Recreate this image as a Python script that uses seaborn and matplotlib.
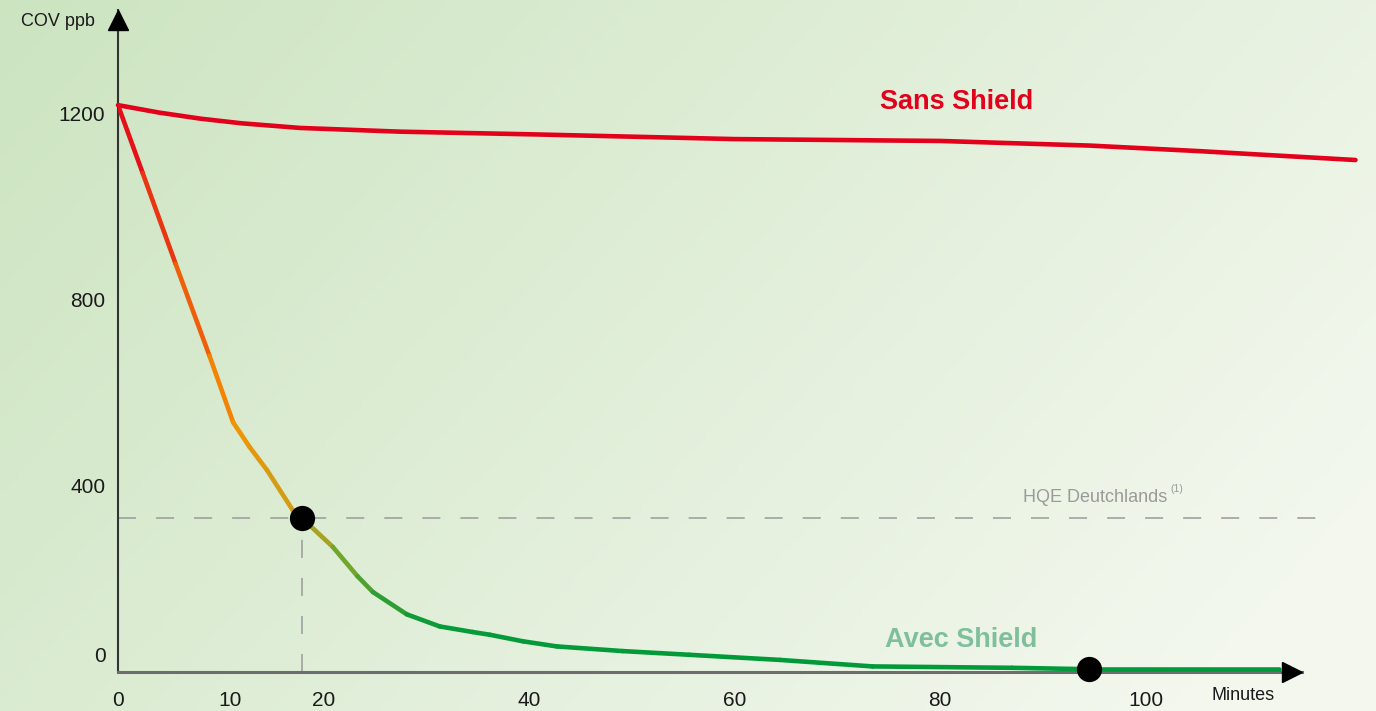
import numpy as np
import matplotlib
matplotlib.use("Agg")
import matplotlib.pyplot as plt
import seaborn as sns
import pandas as pd
from matplotlib.collections import LineCollection
from matplotlib.colors import LinearSegmentedColormap
from matplotlib.transforms import ScaledTranslation

# --- data (minutes, COV ppb) ---
sans_minutes = [0, 4, 8, 12, 17.7, 27.4, 40.7, 60, 80, 94.6, 105.3, 120.4]
sans_ppb = [1219, 1203, 1190, 1180, 1170, 1162, 1156, 1146, 1142, 1132, 1120, 1101]

avec_minutes = [0, 2.4, 5.6, 8.9, 11.2, 12.8, 14.5, 17.0, 17.9,
                20.9, 23.3, 24.8, 28.1, 31.3, 34.5, 36.2, 39.4, 42.7, 49.1,
                55.6, 64.4, 73.4, 87.0, 94.5, 113.0]
avec_ppb = [1219, 1073, 878, 680, 537, 484, 434, 348, 331,
            269, 206, 172, 124, 98, 86, 80, 66, 55, 45,
            37, 26, 12, 9, 6, 6]

hqe_level = 331
hqe_minute = 17.9
marked_minutes = [17.9, 94.5]
marked_ppb = [331, 6]

x_ticks = [0, 10, 20, 40, 60, 80, 100]
y_ticks = [0, 400, 800, 1200]

RED = "#e3001b"
GREEN_TXT = "#80bf9c"
GREY = "#9a9a9a"

sns.set_theme(style="white")
plt.rcParams["font.family"] = ["Liberation Sans Narrow", "Liberation Sans", "DejaVu Sans"]

fig = plt.figure(figsize=(13.76, 7.11), dpi=100)

# background gradient (darker green left, almost white bottom right)
bg = fig.add_axes([0, 0, 1, 1], zorder=-10)
gx, gy = np.meshgrid(np.linspace(0, 1, 300), np.linspace(0, 1, 160))
t = np.clip(0.75 * gx + 0.35 * gy, 0, 1)
c0 = np.array([0.80, 0.895, 0.755])
c1 = np.array([0.955, 0.972, 0.935])
img = c0[None, None, :] * (1 - t[..., None]) + c1[None, None, :] * t[..., None]
bg.imshow(img, aspect="auto", origin="upper", extent=[0, 1, 0, 1])
bg.set_axis_off()

# main axes, sized so that the origin sits where the reference has it
ax = fig.add_axes([118 / 1376, 39 / 711, 1184 / 1376, 662 / 711])
ax.patch.set_alpha(0)
ax.set_xlim(0, 115.2)
ax.set_ylim(0, 1423.6)

# reference dashed lines
dash = (0, (11.8, 13.1))
ax.plot([0, 117.5], [hqe_level, hqe_level], color=GREY, lw=1.1,
        linestyle=dash, clip_on=False, zorder=2)
ax.plot([hqe_minute, hqe_minute], [0, hqe_level], color=GREY, lw=1.1,
        linestyle=dash, zorder=2)

# Sans Shield line
sans_df = pd.DataFrame({"Minutes": sans_minutes, "ppb": sans_ppb})
sns.lineplot(data=sans_df, x="Minutes", y="ppb", ax=ax, color=RED, lw=3.3,
             clip_on=False, zorder=4, solid_capstyle="round",
             solid_joinstyle="round")

# Avec Shield line, coloured by level (red -> orange -> green)
cmap = LinearSegmentedColormap.from_list(
    "cov", [(0.0, "#009a3a"), (100 / 1220, "#079a38"), (230 / 1220, "#6ea52c"),
            (330 / 1220, "#c4a01e"), (540 / 1220, "#f59300"), (1.0, RED)])
pts = np.column_stack([avec_minutes, avec_ppb])
segs = np.stack([pts[:-1], pts[1:]], axis=1)
mids = (np.array(avec_ppb[:-1]) + np.array(avec_ppb[1:])) / 2
lc = LineCollection(segs, colors=cmap(mids / 1220), linewidths=3.3,
                    capstyle="round", joinstyle="round", zorder=5)
ax.add_collection(lc)

# markers
ax.scatter(marked_minutes, marked_ppb, s=330, color="black", zorder=6,
           clip_on=False, linewidths=0)

# axes with arrow heads
sns.despine(ax=ax)
ax.spines["left"].set_color("#333333")
ax.spines["left"].set_linewidth(1.5)
ax.spines["bottom"].set_color("#6d6d6d")
ax.spines["bottom"].set_linewidth(2.2)
ax.plot([0], [1423.6 - 21], marker="^", markersize=14, color="black",
        clip_on=False, zorder=7)
ax.plot([115.2 - 1.0], [0], marker=">", markersize=14, color="black",
        clip_on=False, zorder=7)

ax.set_xticks(x_ticks)
ax.set_xticklabels([str(v) for v in x_ticks])
ax.set_yticks(y_ticks)
ax.set_yticklabels([str(v) for v in y_ticks])
ax.tick_params(axis="both", length=0, labelsize=15, colors="#1a1a1a")
ax.tick_params(axis="x", pad=14)
ax.tick_params(axis="y", pad=9)
ax.set_xlabel("")
ax.set_ylabel("")
# the "0" on the y axis sits above the axis line in the reference
ax.get_yticklabels()[0].set_transform(
    ax.get_yticklabels()[0].get_transform() + ScaledTranslation(0, 17 / 100, fig.dpi_scale_trans))
ax.get_xticklabels()[1].set_transform(
    ax.get_xticklabels()[1].get_transform() + ScaledTranslation(9 / 100, 0, fig.dpi_scale_trans))

# axis titles
fig.text(58 / 1376, 1 - 22 / 711, "COV ppb", ha="center", va="center",
         fontsize=13, color="#1a1a1a")
fig.text(1243 / 1376, 1 - 695 / 711, "Minutes", ha="center", va="center",
         fontsize=13, color="#1a1a1a")

# series labels
fig.text(957 / 1376, 1 - 102 / 711, "Sans Shield", ha="center", va="center",
         fontsize=19.5, fontweight="bold", color=RED,
         family=["Liberation Sans", "DejaVu Sans"])
fig.text(961 / 1376, 1 - 640 / 711, "Avec Shield", ha="center", va="center",
         fontsize=19.5, fontweight="bold", color=GREEN_TXT,
         family=["Liberation Sans", "DejaVu Sans"])

# threshold label
fig.text(1167 / 1376, 1 - 497 / 711, "HQE Deutchlands", ha="right", va="center",
         fontsize=13, color=GREY)
fig.text(1170 / 1376, 1 - 489 / 711, "(1)", ha="left", va="center",
         fontsize=7.5, color=GREY)

fig.savefig("out.png", dpi=100)
